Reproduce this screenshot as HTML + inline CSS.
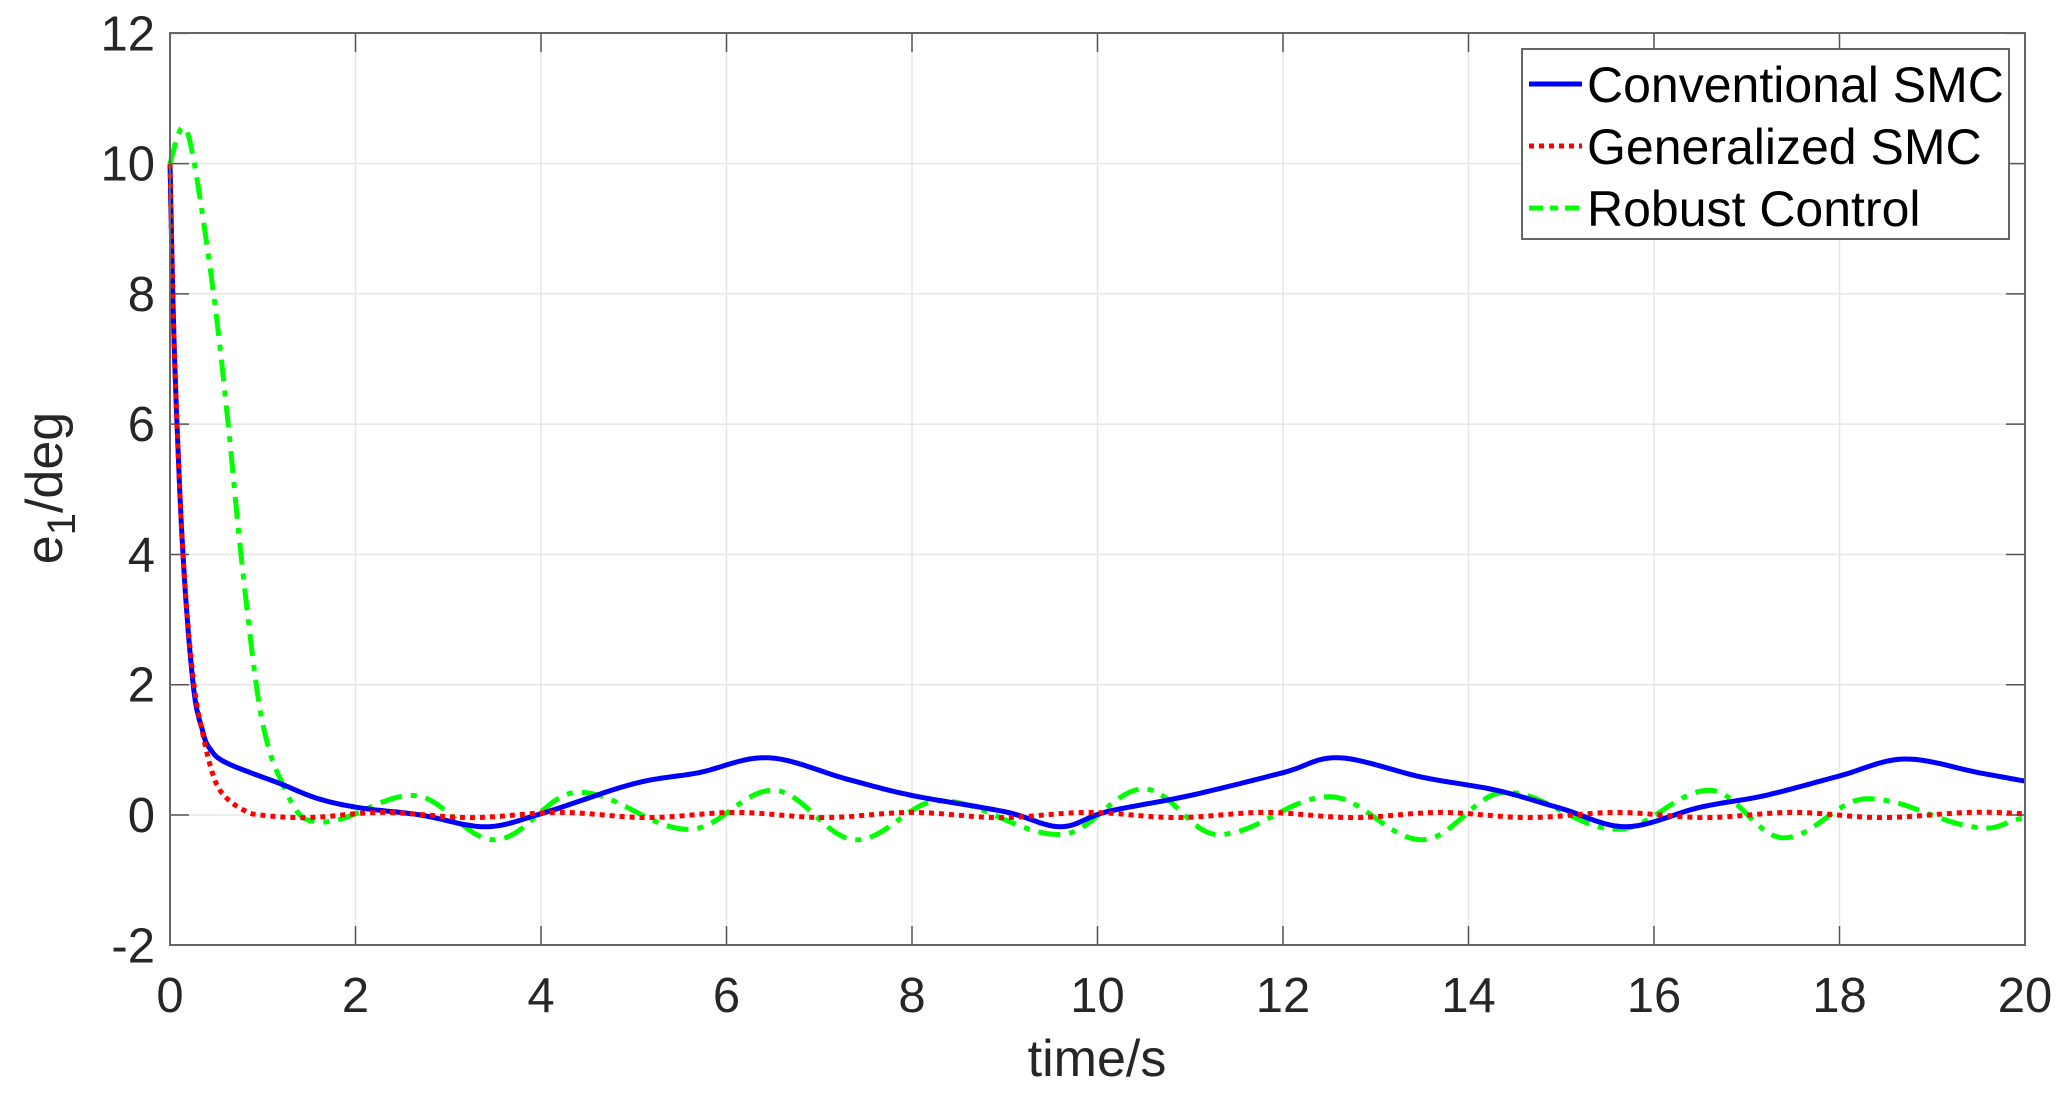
<!DOCTYPE html>
<html><head><meta charset="utf-8"><style>
html,body{margin:0;padding:0;background:#fff;}
svg{display:block;font-family:"Liberation Sans",Arial,sans-serif;}
</style></head><body>
<svg id="s" width="2067" height="1096" viewBox="0 0 2067 1096" xmlns="http://www.w3.org/2000/svg">
<rect width="2067" height="1096" fill="#fff"/>
<g id="grid" stroke="#e6e6e6" stroke-width="1.5"></g>
<g id="ticks" stroke="#555" stroke-width="1.5"></g>
<g id="lbl" fill="#262626" font-size="49"></g>
<path id="green" fill="none" stroke="#00ff00" stroke-width="5" stroke-dasharray="22,9,6,9"/>
<path id="blue" fill="none" stroke="#0000ff" stroke-width="5"/>
<path id="red" fill="none" stroke="#ff0000" stroke-width="5" stroke-dasharray="5,5"/>
<rect x="170" y="33" width="1855" height="912" fill="none" stroke="#666" stroke-width="2"/>
<text x="1097" y="1076" font-size="52" fill="#262626" text-anchor="middle">time/s</text>
<text transform="translate(62,488) rotate(-90)" font-size="52" fill="#262626" text-anchor="middle">e<tspan font-size="40" dy="13">1</tspan><tspan dy="-13">/deg</tspan></text>
<rect x="1522" y="49" width="487" height="190" fill="#fff" stroke="#666" stroke-width="2"/>
<line x1="1529" y1="84" x2="1582" y2="84" stroke="#0000ff" stroke-width="5"/>
<line x1="1529" y1="146" x2="1582" y2="146" stroke="#ff0000" stroke-width="5" stroke-dasharray="5,5"/>
<line x1="1529" y1="208" x2="1582" y2="208" stroke="#00ff00" stroke-width="5" stroke-dasharray="14,7,8,7"/>
<text x="1587" y="102" font-size="50" fill="#000">Conventional SMC</text>
<text x="1587" y="164" font-size="50" fill="#000">Generalized SMC</text>
<text x="1587" y="226" font-size="50" fill="#000">Robust Control</text>
</svg>
<script>
var X0=170,X1=2025,Y0=815,SY=65.14;
function px(t){return X0+(X1-X0)*t/20;}
function py(v){return Y0-v*SY;}
var ns="http://www.w3.org/2000/svg";
function el(p,tag,a,txt){var e=document.createElementNS(ns,tag);for(var k in a)e.setAttribute(k,a[k]);if(txt!==undefined)e.textContent=txt;document.getElementById(p).appendChild(e);}
for(var t=2;t<20;t+=2)el("grid","line",{x1:px(t),y1:33,x2:px(t),y2:945});
for(var v=0;v<12;v+=2)el("grid","line",{x1:170,y1:py(v),x2:2025,y2:py(v)});
for(var t=0;t<=20;t+=2){el("ticks","line",{x1:px(t),y1:945,x2:px(t),y2:926});el("ticks","line",{x1:px(t),y1:33,x2:px(t),y2:52});
 el("lbl","text",{x:px(t),y:1012,"text-anchor":"middle"},String(t));}
for(var v=-2;v<=12;v+=2){el("ticks","line",{x1:170,y1:py(v),x2:189,y2:py(v)});el("ticks","line",{x1:2025,y1:py(v),x2:2006,y2:py(v)});
 el("lbl","text",{x:155,y:py(v)+17,"text-anchor":"end"},String(v));}
function cr(pts){var d="M"+px(pts[0][0]).toFixed(1)+","+py(pts[0][1]).toFixed(1);
 for(var i=0;i<pts.length-1;i++){var p0=pts[Math.max(0,i-1)],p1=pts[i],p2=pts[i+1],p3=pts[Math.min(pts.length-1,i+2)];
  for(var s=1;s<=12;s++){var u=s/12,u2=u*u,u3=u2*u;
   var f=function(a,b,c,e){return 0.5*((2*b)+(-a+c)*u+(2*a-5*b+4*c-e)*u2+(-a+3*b-3*c+e)*u3);};
   d+=" L"+px(f(p0[0],p1[0],p2[0],p3[0])).toFixed(1)+","+py(f(p0[1],p1[1],p2[1],p3[1])).toFixed(1);}}
 return d;}
function cosi(pts){var d="";for(var i=0;i<pts.length-1;i++){var a=pts[i],b=pts[i+1];
 for(var s=1;s<=24;s++){var u=s/24,w=(1-Math.cos(Math.PI*u))/2;d+=" L"+px(a[0]+(b[0]-a[0])*u).toFixed(1)+","+py(a[1]+(b[1]-a[1])*w).toFixed(1);}}return d;}
var blue=[[0,10],[0.05,7],[0.14,4],[0.25,2],[0.35,1.3],[0.43,1.02],[0.61,0.8],[1.19,0.48],[1.6,0.25],[2.05,0.11],[2.7,0.0],[3.4,-0.18],[4,0.02],[5,0.48],[5.7,0.65],[6.45,0.88],[7.3,0.55],[8,0.3],[9,0.05],[9.6,-0.18],[10.1,0.05],[11,0.3],[12,0.65],[12.6,0.88],[13.5,0.58],[14.3,0.38],[15,0.1],[15.7,-0.18],[16.5,0.12],[17.2,0.3],[18,0.6],[18.7,0.86],[19.5,0.65],[20,0.52]];
document.getElementById("blue").setAttribute("d",cr(blue));
var red=[[0,10],[0.05,7],[0.14,4],[0.25,2.1],[0.36,1.2],[0.48,0.55],[0.61,0.26],[0.8,0.07],[0.97,0],[1.5,-0.04]];
for(var t=2.3,k=0;t<=20;t+=0.95,k++)red.push([t,k%2?-0.04:0.04]);red.push([20,0.02]);
document.getElementById("red").setAttribute("d",cr(red));
var g1=[[0,10],[0.13,10.55],[0.25,10.1],[0.47,8.0],[0.62,6.1],[0.76,4.07],[0.93,2.0],[1.05,1.1],[1.19,0.55],[1.4,0.0],[1.62,-0.11]];
var g2=[[1.62,-0.11],[2.62,0.3],[3.5,-0.38],[4.4,0.35],[5.6,-0.22],[6.5,0.38],[7.4,-0.38],[8.3,0.22],[9.6,-0.3],[10.5,0.4],[11.3,-0.3],[12.5,0.28],[13.5,-0.38],[14.4,0.35],[15.6,-0.22],[16.6,0.38],[17.4,-0.35],[18.3,0.25],[19.6,-0.2],[20,-0.05]];
document.getElementById("green").setAttribute("d",cr(g1)+cosi(g2));
</script>
</body></html>
